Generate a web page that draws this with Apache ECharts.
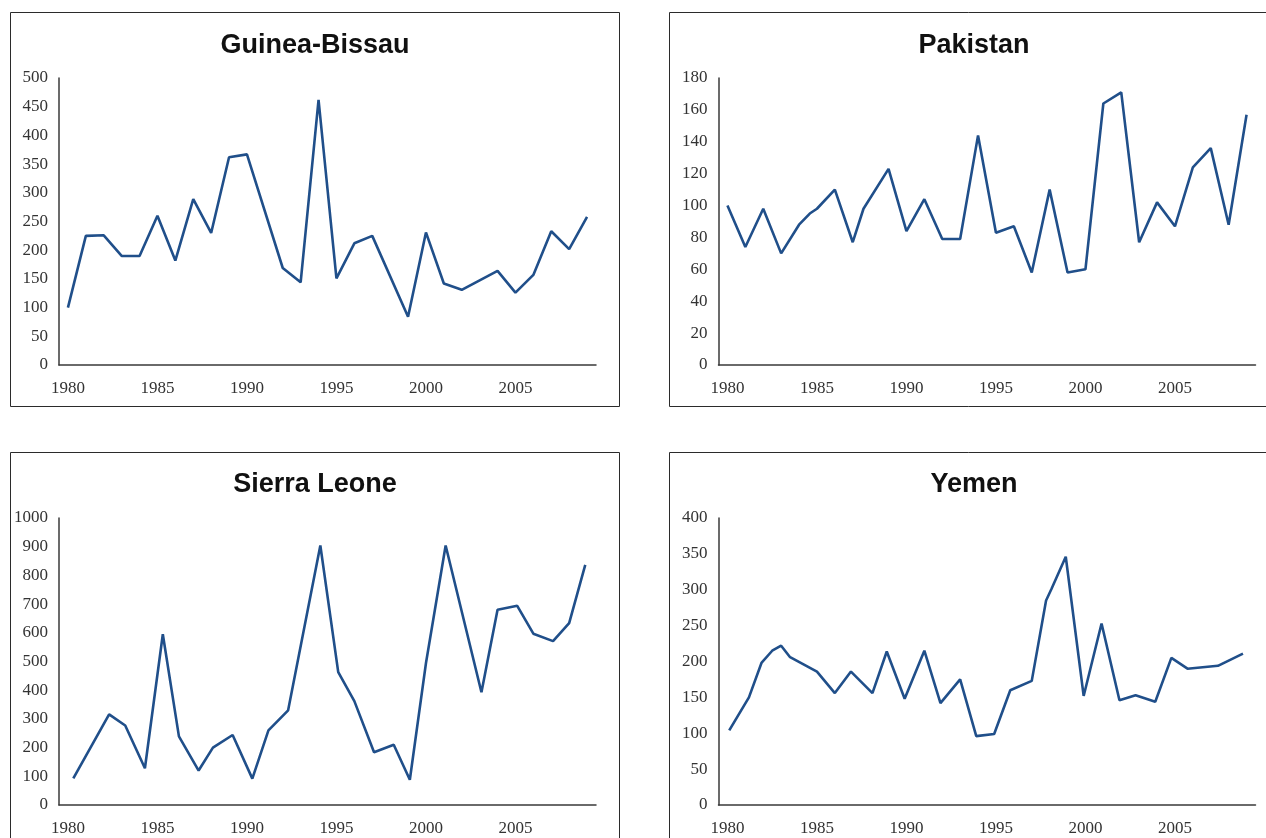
<!DOCTYPE html>
<html>
<head>
<meta charset="utf-8">
<script src="https://cdn.jsdelivr.net/npm/echarts@6/dist/echarts.min.js"></script>
<style>
  html, body { margin: 0; padding: 0; background: #fff; }
  #chart { width: 1266px; height: 838px; }
</style>
</head>
<body>
<div id="chart"></div>
<script>
// x tick labels shared by all panels
var yearTicks = [1980, 1985, 1990, 1995, 2000, 2005];

// Guinea-Bissau
var gbYears = [1980, 1981, 1982, 1983, 1984, 1985, 1986, 1987, 1988, 1989, 1990, 1992, 1993, 1994,
  1995, 1996, 1997, 1999, 2000, 2001, 2002, 2004, 2005, 2006, 2007, 2008, 2009];
var gbValues = [100, 225, 226, 190, 190, 260, 182, 289, 230, 362, 367, 169, 144, 462,
  151, 212, 225, 84, 231, 142, 131, 164, 126, 157, 233, 202, 258];

// Pakistan
var pkYears = [1980, 1981, 1982, 1983, 1984, 1984.6, 1985, 1986, 1987, 1987.6, 1989, 1990, 1991, 1992,
  1993, 1994, 1995, 1996, 1997, 1998, 1999, 2000, 2001, 2002, 2003, 2004, 2005, 2006, 2007, 2008, 2009];
var pkValues = [100, 74, 98, 70, 88, 95, 98, 110, 77, 98, 123, 84, 104, 79,
  79, 144, 83, 87, 58, 110, 58, 60, 164, 171, 77, 102, 87, 124, 136, 88, 157];

// Sierra Leone
var slYears = [1980.3, 1982.3, 1983.2, 1984.3, 1985.3, 1986.2, 1987.3, 1988.1, 1989.2, 1990.3, 1991.2,
  1992.3, 1994.1, 1995.1, 1996, 1997.1, 1998.2, 1999.1, 2000, 2001.1, 2003.1, 2004, 2005.1, 2006,
  2007.1, 2008, 2008.9];
var slValues = [93, 316, 277, 128, 595, 239, 120, 200, 244, 92, 260,
  330, 904, 463, 362, 184, 210, 88, 494, 904, 393, 680, 694, 597,
  571, 634, 837];

// Yemen
var yeYears = [1980.1, 1981.2, 1981.9, 1982.5, 1983, 1983.5, 1985, 1986, 1986.9, 1988.1, 1988.9, 1989.9,
  1991, 1991.9, 1993, 1993.9, 1994.9, 1995.8, 1997, 1997.8, 1998.1, 1998.9, 1999.9, 2000.9, 2001.9,
  2002.8, 2003.9, 2004.8, 2005.7, 2007.4, 2008.8];
var yeValues = [104, 150, 198, 215, 222, 206, 186, 156, 186, 156, 214, 148,
  215, 142, 175, 96, 99, 160, 173, 285, 301, 346, 152, 253, 146,
  153, 144, 205, 190, 194, 211];

var panels = [
  { title: "Guinea-Bissau", years: gbYears, values: gbValues, max: 500, step: 50 },
  { title: "Pakistan", years: pkYears, values: pkValues, max: 180, step: 20 },
  { title: "Sierra Leone", years: slYears, values: slValues, max: 1000, step: 100 },
  { title: "Yemen", years: yeYears, values: yeValues, max: 400, step: 50 }
];

var boxes = [
  { x: 10.5, y: 12.5, gl: 59, gt: 78, tx: 315, ty: 46 },
  { x: 669.5, y: 12.5, gl: 718.5, gt: 78, tx: 974, ty: 46 },
  { x: 10.5, y: 452.5, gl: 59, gt: 518, tx: 315, ty: 485 },
  { x: 669.5, y: 452.5, gl: 718.5, gt: 518, tx: 974, ty: 485 }
];

var labelFont = { fontFamily: "Liberation Serif", fontSize: 17, color: "#333" };
var axisLine = { show: true, lineStyle: { color: "#3a3a3a", width: 1.5 } };
var plain = function (v) { return String(v); };

var grids = [], xAxes = [], yAxes = [], series = [], graphics = [];
panels.forEach(function (p, i) {
  var b = boxes[i];
  graphics.push({
    type: "rect", silent: true,
    shape: { x: b.x, y: b.y, width: 609, height: 394 },
    style: { fill: "none", stroke: "#2b2b2b", lineWidth: 1 }
  });
  graphics.push({
    type: "text", silent: true, x: b.tx, y: b.ty,
    style: {
      text: p.title, fill: "#111", align: "center", verticalAlign: "middle",
      font: 'bold 27px "Liberation Sans"'
    }
  });
  grids.push({ left: b.gl, top: b.gt, width: 537, height: 287 });
  xAxes.push({
    gridIndex: i, type: "value", min: 1979.5, max: 2009.5,
    axisLine: axisLine, axisTick: { show: false }, splitLine: { show: false },
    axisLabel: Object.assign({ customValues: yearTicks, margin: 15, formatter: plain }, labelFont)
  });
  yAxes.push({
    gridIndex: i, type: "value", min: 0, max: p.max, interval: p.step,
    axisLine: axisLine, axisTick: { show: false }, splitLine: { show: false },
    axisLabel: Object.assign({ margin: 11, formatter: plain }, labelFont)
  });
  series.push({
    name: p.title, type: "line", xAxisIndex: i, yAxisIndex: i,
    data: p.years.map(function (y, k) { return [y, p.values[k]]; }),
    showSymbol: false, symbol: "none",
    lineStyle: { color: "#204f8a", width: 2.6 },
    itemStyle: { color: "#204f8a" }
  });
});

var myChart = echarts.init(document.getElementById("chart"));
myChart.setOption({
  animation: false,
  backgroundColor: "#fff",
  grid: grids,
  xAxis: xAxes,
  yAxis: yAxes,
  series: series,
  graphic: graphics
});
</script>
</body>
</html>
